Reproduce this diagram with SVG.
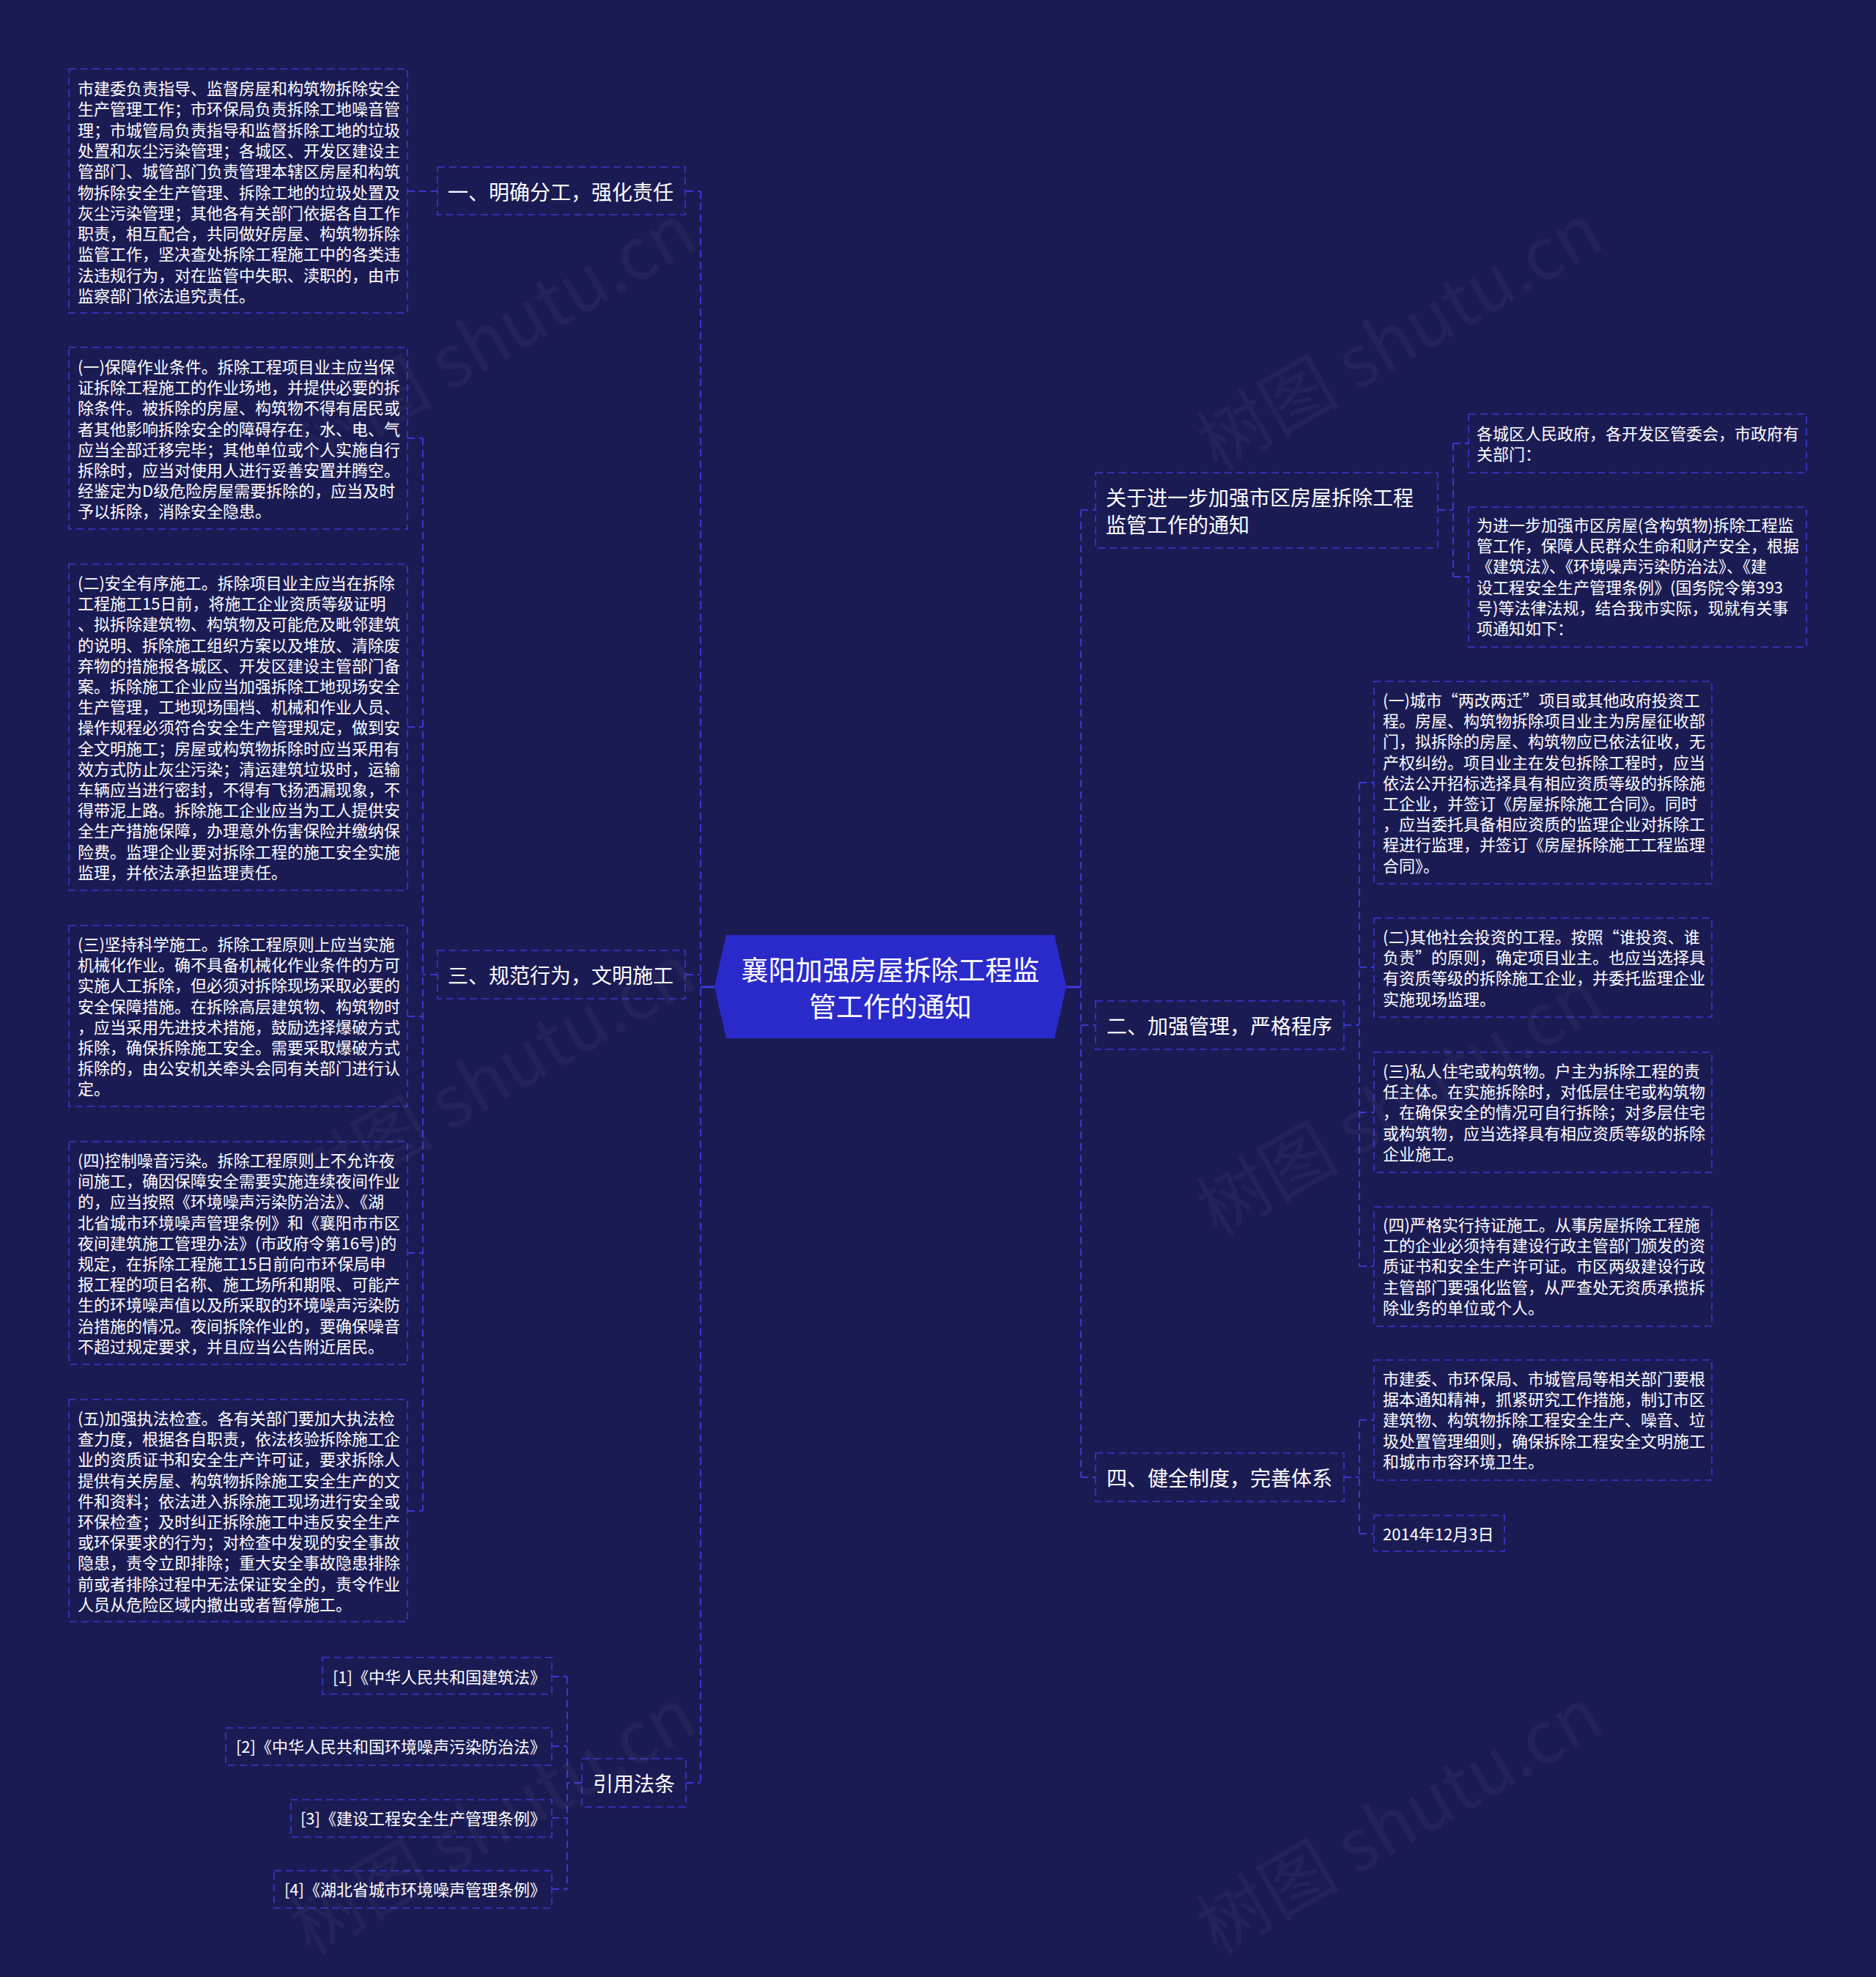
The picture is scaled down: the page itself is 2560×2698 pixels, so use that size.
<svg xmlns="http://www.w3.org/2000/svg" width="2560" height="2698" viewBox="0 0 2560 2698">
<style>
.bg{fill:#1b1b54}
.box{fill:none;stroke:#3838cf;stroke-width:1.6;stroke-dasharray:10 6}
.con{fill:none;stroke:#3838cf;stroke-width:2;stroke-dasharray:10 6}
.solid{fill:none;stroke:#3a3ae0;stroke-width:3}
.t{font-family:"Noto Sans CJK SC","Noto Sans",sans-serif;fill:#ffffff;dominant-baseline:central}
.leaf{font-size:22px;transform:translateY(-3px)}
.br{font-size:28px}
.root{font-size:37px;text-anchor:middle}
.ref{font-size:22px;text-anchor:end}
.wm{font-family:"Noto Sans CJK SC","Noto Sans",sans-serif;font-size:98px;fill:#ffffff;fill-opacity:0.04;text-anchor:middle}
</style>
<rect class="bg" x="0" y="0" width="2560" height="2698"/>

<g id="connectors">
<path class="solid" d="M956 1347H975"/>
<path class="solid" d="M1455 1347H1475"/>
<path class="con" d="M956 261V2433"/>
<path class="con" d="M936 261H956M936 1330H956M936 2433H956"/>
<path class="con" d="M556 261H597"/>
<path class="con" d="M597 1330H577M577 598V2062M556 598H577M556 992H577M556 1387H577M556 1710H577M556 2062H577"/>
<path class="con" d="M794 2433H774M774 2288V2578M753 2288H774M753 2383H774M753 2481H774M753 2578H774"/>
<path class="con" d="M1475 696V2016"/>
<path class="con" d="M1475 696H1495M1475 1399H1495M1475 2016H1495"/>
<path class="con" d="M1962 696H1983M1983 605V787M1983 605H2004M1983 787H2004"/>
<path class="con" d="M1834 1399H1855M1855 1068V1728M1855 1068H1875M1855 1320H1875M1855 1518H1875M1855 1728H1875"/>
<path class="con" d="M1834 2016H1855M1855 1938V2093M1855 1938H1875M1855 2093H1875"/>
</g>

<g id="root">
<polygon points="975,1347 991,1276 1439,1276 1455,1347 1439,1417 991,1417" fill="#2a2acb"/>
<text class="t root"><tspan x="1215" y="1322">襄阳加强房屋拆除工程监</tspan><tspan x="1215" y="1372">管工作的通知</tspan></text>
</g>

<g id="b1">
<rect class="box" x="597" y="228" width="338" height="65"/>
<text class="t br" x="611" y="261">一、明确分工，强化责任</text>
</g>
<g id="b1-leaf">
<rect class="box" x="94" y="94" width="462" height="333"/>
<text class="t leaf">
<tspan x="106" y="122">市建委负责指导、监督房屋和构筑物拆除安全</tspan>
<tspan x="106" y="150.3">生产管理工作；市环保局负责拆除工地噪音管</tspan>
<tspan x="106" y="178.6">理；市城管局负责指导和监督拆除工地的垃圾</tspan>
<tspan x="106" y="206.9">处置和灰尘污染管理；各城区、开发区建设主</tspan>
<tspan x="106" y="235.2">管部门、城管部门负责管理本辖区房屋和构筑</tspan>
<tspan x="106" y="263.5">物拆除安全生产管理、拆除工地的垃圾处置及</tspan>
<tspan x="106" y="291.8">灰尘污染管理；其他各有关部门依据各自工作</tspan>
<tspan x="106" y="320.1">职责，相互配合，共同做好房屋、构筑物拆除</tspan>
<tspan x="106" y="348.4">监管工作，坚决查处拆除工程施工中的各类违</tspan>
<tspan x="106" y="376.7">法违规行为，对在监管中失职、渎职的，由市</tspan>
<tspan x="106" y="405">监察部门依法追究责任。</tspan>
</text>
</g>

<g id="b3">
<rect class="box" x="597" y="1297" width="338" height="66"/>
<text class="t br" x="611" y="1330">三、规范行为，文明施工</text>
</g>
<g id="b3-l1">
<rect class="box" x="94" y="474" width="462" height="248"/>
<text class="t leaf">
<tspan x="106" y="502">(一)保障作业条件。拆除工程项目业主应当保</tspan>
<tspan x="106" y="530.2">证拆除工程施工的作业场地，并提供必要的拆</tspan>
<tspan x="106" y="558.4">除条件。被拆除的房屋、构筑物不得有居民或</tspan>
<tspan x="106" y="586.6">者其他影响拆除安全的障碍存在，水、电、气</tspan>
<tspan x="106" y="614.8">应当全部迁移完毕；其他单位或个人实施自行</tspan>
<tspan x="106" y="643">拆除时，应当对使用人进行妥善安置并腾空。</tspan>
<tspan x="106" y="671.2">经鉴定为D级危险房屋需要拆除的，应当及时</tspan>
<tspan x="106" y="699.4">予以拆除，消除安全隐患。</tspan>
</text>
</g>
<g id="b3-l2">
<rect class="box" x="94" y="770" width="462" height="445"/>
<text class="t leaf">
<tspan x="106" y="797">(二)安全有序施工。拆除项目业主应当在拆除</tspan>
<tspan x="106" y="825.2">工程施工15日前，将施工企业资质等级证明</tspan>
<tspan x="106" y="853.4">、拟拆除建筑物、构筑物及可能危及毗邻建筑</tspan>
<tspan x="106" y="881.6">的说明、拆除施工组织方案以及堆放、清除废</tspan>
<tspan x="106" y="909.8">弃物的措施报各城区、开发区建设主管部门备</tspan>
<tspan x="106" y="938">案。拆除施工企业应当加强拆除工地现场安全</tspan>
<tspan x="106" y="966.2">生产管理，工地现场围档、机械和作业人员、</tspan>
<tspan x="106" y="994.4">操作规程必须符合安全生产管理规定，做到安</tspan>
<tspan x="106" y="1022.6">全文明施工；房屋或构筑物拆除时应当采用有</tspan>
<tspan x="106" y="1050.8">效方式防止灰尘污染；清运建筑垃圾时，运输</tspan>
<tspan x="106" y="1079">车辆应当进行密封，不得有飞扬洒漏现象，不</tspan>
<tspan x="106" y="1107.2">得带泥上路。拆除施工企业应当为工人提供安</tspan>
<tspan x="106" y="1135.4">全生产措施保障，办理意外伤害保险并缴纳保</tspan>
<tspan x="106" y="1163.6">险费。监理企业要对拆除工程的施工安全实施</tspan>
<tspan x="106" y="1191.8">监理，并依法承担监理责任。</tspan>
</text>
</g>
<g id="b3-l3">
<rect class="box" x="94" y="1263" width="462" height="247"/>
<text class="t leaf">
<tspan x="106" y="1290">(三)坚持科学施工。拆除工程原则上应当实施</tspan>
<tspan x="106" y="1318.2">机械化作业。确不具备机械化作业条件的方可</tspan>
<tspan x="106" y="1346.4">实施人工拆除，但必须对拆除现场采取必要的</tspan>
<tspan x="106" y="1374.6">安全保障措施。在拆除高层建筑物、构筑物时</tspan>
<tspan x="106" y="1402.8">，应当采用先进技术措施，鼓励选择爆破方式</tspan>
<tspan x="106" y="1431">拆除，确保拆除施工安全。需要采取爆破方式</tspan>
<tspan x="106" y="1459.2">拆除的，由公安机关牵头会同有关部门进行认</tspan>
<tspan x="106" y="1487.4">定。</tspan>
</text>
</g>
<g id="b3-l4">
<rect class="box" x="94" y="1558" width="462" height="304"/>
<text class="t leaf">
<tspan x="106" y="1585">(四)控制噪音污染。拆除工程原则上不允许夜</tspan>
<tspan x="106" y="1613.2">间施工，确因保障安全需要实施连续夜间作业</tspan>
<tspan x="106" y="1641.4">的，应当按照《环境噪声污染防治法》、《湖</tspan>
<tspan x="106" y="1669.6">北省城市环境噪声管理条例》和《襄阳市市区</tspan>
<tspan x="106" y="1697.8">夜间建筑施工管理办法》(市政府令第16号)的</tspan>
<tspan x="106" y="1726">规定，在拆除工程施工15日前向市环保局申</tspan>
<tspan x="106" y="1754.2">报工程的项目名称、施工场所和期限、可能产</tspan>
<tspan x="106" y="1782.4">生的环境噪声值以及所采取的环境噪声污染防</tspan>
<tspan x="106" y="1810.6">治措施的情况。夜间拆除作业的，要确保噪音</tspan>
<tspan x="106" y="1838.8">不超过规定要求，并且应当公告附近居民。</tspan>
</text>
</g>
<g id="b3-l5">
<rect class="box" x="94" y="1910" width="462" height="303"/>
<text class="t leaf">
<tspan x="106" y="1937">(五)加强执法检查。各有关部门要加大执法检</tspan>
<tspan x="106" y="1965.2">查力度，根据各自职责，依法核验拆除施工企</tspan>
<tspan x="106" y="1993.4">业的资质证书和安全生产许可证，要求拆除人</tspan>
<tspan x="106" y="2021.6">提供有关房屋、构筑物拆除施工安全生产的文</tspan>
<tspan x="106" y="2049.8">件和资料；依法进入拆除施工现场进行安全或</tspan>
<tspan x="106" y="2078">环保检查；及时纠正拆除施工中违反安全生产</tspan>
<tspan x="106" y="2106.2">或环保要求的行为；对检查中发现的安全事故</tspan>
<tspan x="106" y="2134.4">隐患，责令立即排除；重大安全事故隐患排除</tspan>
<tspan x="106" y="2162.6">前或者排除过程中无法保证安全的，责令作业</tspan>
<tspan x="106" y="2190.8">人员从危险区域内撤出或者暂停施工。</tspan>
</text>
</g>

<g id="b5">
<rect class="box" x="794" y="2400" width="142" height="66"/>
<text class="t br" x="809" y="2433">引用法条</text>
</g>
<g id="ref1">
<rect class="box" x="440" y="2262" width="313" height="50"/>
<text class="t ref" x="745" y="2287">[1]《中华人民共和国建筑法》</text>
</g>
<g id="ref2">
<rect class="box" x="308" y="2358" width="445" height="51"/>
<text class="t ref" x="745" y="2382">[2]《中华人民共和国环境噪声污染防治法》</text>
</g>
<g id="ref3">
<rect class="box" x="397" y="2456" width="356" height="51"/>
<text class="t ref" x="745" y="2480">[3]《建设工程安全生产管理条例》</text>
</g>
<g id="ref4">
<rect class="box" x="374" y="2553" width="379" height="51"/>
<text class="t ref" x="745" y="2577">[4]《湖北省城市环境噪声管理条例》</text>
</g>

<g id="r1">
<rect class="box" x="1495" y="645" width="467" height="103"/>
<text class="t br"><tspan x="1509" y="678">关于进一步加强市区房屋拆除工程</tspan><tspan x="1509" y="715">监管工作的通知</tspan></text>
</g>
<g id="r1-a">
<rect class="box" x="2004" y="565" width="461" height="80"/>
<text class="t leaf"><tspan x="2015" y="593">各城区人民政府，各开发区管委会，市政府有</tspan><tspan x="2015" y="621.2">关部门：</tspan></text>
</g>
<g id="r1-b">
<rect class="box" x="2004" y="692" width="461" height="191"/>
<text class="t leaf">
<tspan x="2015" y="718">为进一步加强市区房屋(含构筑物)拆除工程监</tspan>
<tspan x="2015" y="746.2">管工作，保障人民群众生命和财产安全，根据</tspan>
<tspan x="2015" y="774.4">《建筑法》、《环境噪声污染防治法》、《建</tspan>
<tspan x="2015" y="802.6">设工程安全生产管理条例》(国务院令第393</tspan>
<tspan x="2015" y="830.8">号)等法律法规，结合我市实际，现就有关事</tspan>
<tspan x="2015" y="859">项通知如下：</tspan>
</text>
</g>

<g id="r2">
<rect class="box" x="1495" y="1366" width="339" height="66"/>
<text class="t br" x="1510" y="1399">二、加强管理，严格程序</text>
</g>
<g id="r2-a">
<rect class="box" x="1875" y="930" width="461" height="276"/>
<text class="t leaf">
<tspan x="1887" y="957">(一)城市“两改两迁”项目或其他政府投资工</tspan>
<tspan x="1887" y="985.2">程。房屋、构筑物拆除项目业主为房屋征收部</tspan>
<tspan x="1887" y="1013.4">门，拟拆除的房屋、构筑物应已依法征收，无</tspan>
<tspan x="1887" y="1041.6">产权纠纷。项目业主在发包拆除工程时，应当</tspan>
<tspan x="1887" y="1069.8">依法公开招标选择具有相应资质等级的拆除施</tspan>
<tspan x="1887" y="1098">工企业，并签订《房屋拆除施工合同》。同时</tspan>
<tspan x="1887" y="1126.2">，应当委托具备相应资质的监理企业对拆除工</tspan>
<tspan x="1887" y="1154.4">程进行监理，并签订《房屋拆除施工工程监理</tspan>
<tspan x="1887" y="1182.6">合同》。</tspan>
</text>
</g>
<g id="r2-b">
<rect class="box" x="1875" y="1253" width="461" height="135"/>
<text class="t leaf">
<tspan x="1887" y="1280">(二)其他社会投资的工程。按照“谁投资、谁</tspan>
<tspan x="1887" y="1308.2">负责”的原则，确定项目业主。也应当选择具</tspan>
<tspan x="1887" y="1336.4">有资质等级的拆除施工企业，并委托监理企业</tspan>
<tspan x="1887" y="1364.6">实施现场监理。</tspan>
</text>
</g>
<g id="r2-c">
<rect class="box" x="1875" y="1436" width="461" height="164"/>
<text class="t leaf">
<tspan x="1887" y="1463">(三)私人住宅或构筑物。户主为拆除工程的责</tspan>
<tspan x="1887" y="1491.2">任主体。在实施拆除时，对低层住宅或构筑物</tspan>
<tspan x="1887" y="1519.4">，在确保安全的情况可自行拆除；对多层住宅</tspan>
<tspan x="1887" y="1547.6">或构筑物，应当选择具有相应资质等级的拆除</tspan>
<tspan x="1887" y="1575.8">企业施工。</tspan>
</text>
</g>
<g id="r2-d">
<rect class="box" x="1875" y="1647" width="461" height="163"/>
<text class="t leaf">
<tspan x="1887" y="1673">(四)严格实行持证施工。从事房屋拆除工程施</tspan>
<tspan x="1887" y="1701.2">工的企业必须持有建设行政主管部门颁发的资</tspan>
<tspan x="1887" y="1729.4">质证书和安全生产许可证。市区两级建设行政</tspan>
<tspan x="1887" y="1757.6">主管部门要强化监管，从严查处无资质承揽拆</tspan>
<tspan x="1887" y="1785.8">除业务的单位或个人。</tspan>
</text>
</g>

<g id="r4">
<rect class="box" x="1495" y="1983" width="339" height="66"/>
<text class="t br" x="1510" y="2016">四、健全制度，完善体系</text>
</g>
<g id="r4-a">
<rect class="box" x="1875" y="1856" width="461" height="164"/>
<text class="t leaf">
<tspan x="1887" y="1883">市建委、市环保局、市城管局等相关部门要根</tspan>
<tspan x="1887" y="1911.2">据本通知精神，抓紧研究工作措施，制订市区</tspan>
<tspan x="1887" y="1939.4">建筑物、构筑物拆除工程安全生产、噪音、垃</tspan>
<tspan x="1887" y="1967.6">圾处置管理细则，确保拆除工程安全文明施工</tspan>
<tspan x="1887" y="1995.8">和城市市容环境卫生。</tspan>
</text>
</g>
<g id="r4-b">
<rect class="box" x="1875" y="2068" width="178" height="49"/>
<text class="t leaf" x="1887" y="2095">2014年12月3日</text>
</g>

<g id="watermarks">
<text class="wm" transform="translate(690,490) rotate(-30)">树图 shutu.cn</text>
<text class="wm" transform="translate(1927,490) rotate(-30)">树图 shutu.cn</text>
<text class="wm" transform="translate(690,1500) rotate(-30)">树图 shutu.cn</text>
<text class="wm" transform="translate(1927,1535) rotate(-30)">树图 shutu.cn</text>
<text class="wm" transform="translate(690,2515) rotate(-30)">树图 shutu.cn</text>
<text class="wm" transform="translate(1927,2515) rotate(-30)">树图 shutu.cn</text>
</g>
</svg>
